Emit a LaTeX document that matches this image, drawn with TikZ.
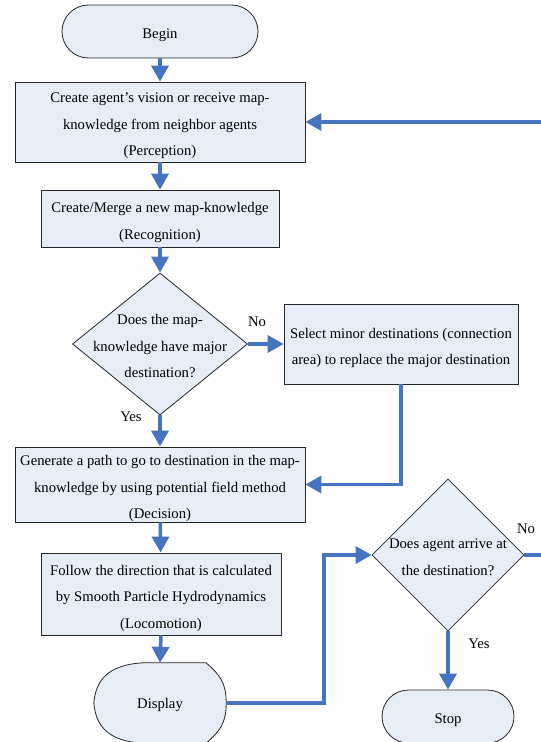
\documentclass[tikz,border=0pt]{standalone}
\usepackage{fontspec}
\setmainfont{Liberation Serif}
\usetikzlibrary{shapes.geometric,shapes.misc,arrows.meta}

\definecolor{flowblue}{RGB}{70,116,193}
\definecolor{boxfill}{RGB}{231,237,247}

\tikzset{
  txt/.style={font=\fontsize{14.7}{26.5}\selectfont, align=center, inner sep=0pt},
  boxtext/.style={txt, yshift=-4pt},
  shapeline/.style={draw=black!85, fill=boxfill, line width=0.8pt},
  process/.style={shapeline, rectangle, inner sep=0pt},
  terminal/.style={shapeline, rounded rectangle, inner sep=0pt, minimum height=53pt},
  decision/.style={shapeline, diamond, inner sep=0pt},
  flow/.style={draw=flowblue, line width=3.5pt, -{Triangle[length=16pt,width=17pt]}},
  plainflow/.style={draw=flowblue, line width=3.5pt}
}

\begin{document}
\begin{tikzpicture}[x=1pt, y=-1pt]
  \useasboundingbox (0,0) rectangle (541,742);

  % Main column
  \node[terminal, minimum width=196pt] (begin) at (160,31.5) {};
  \node[boxtext] (begintext) at (begin) {Begin};

  \node[process, minimum width=290pt, minimum height=80pt] (perc) at (160,122) {};
  \node[boxtext] (perctext) at (perc)
    {Create agent’s vision or receive map-\\knowledge from neighbor agents\\(Perception)};

  \node[process, minimum width=238pt, minimum height=57pt] (recog) at (160,218.5) {};
  \node[boxtext] (recogtext) at (recog) {Create/Merge a new map-knowledge\\(Recognition)};

  \node[decision, minimum width=175pt, minimum height=142pt] (dec1) at (160,344) {};
  \node[txt] (dec1text) at (160,346) {Does the map-\\knowledge have major\\destination?};

  \node[process, minimum width=234pt, minimum height=80pt] (minor) at (401,344) {};
  \node[boxtext] (minortext) at (minor)
    {Select minor destinations (connection\\area) to replace the major destination};

  \node[process, minimum width=290pt, minimum height=75pt] (decide) at (160,484.5) {};
  \node[boxtext] (decidetext) at (decide)
    {Generate a path to go to destination in the map-\\knowledge by using potential field method\\(Decision)};

  \node[process, minimum width=240pt, minimum height=82pt] (loco) at (161,594) {};
  \node[boxtext] (locotext) at (loco)
    {Follow the direction that is calculated\\by Smooth Particle Hydrodynamics\\(Locomotion)};

  \node[minimum width=132pt, minimum height=80pt, inner sep=0pt] (disp) at (160,703) {};

  % Display outline
  \path[shapeline] ([xshift=-17pt]disp.north) -- ([xshift=46pt]disp.north)
    .. controls +(14,12) and +(0,-20) .. (disp.east)
    .. controls +(0,20) and +(14,-12) .. ([xshift=46pt]disp.south)
    -- ([xshift=-17pt]disp.south)
    .. controls +(-36,-2) and +(2,22) .. (disp.west)
    .. controls +(2,-22) and +(-36,2) .. ([xshift=-17pt]disp.north) -- cycle;
  \node[txt] (disptext) at (160,705) {Display};

  % Right column
  \node[decision, minimum width=152pt, minimum height=152pt] (dec2) at (448,555) {};
  \node[txt] (dec2text) at (448,557) {Does agent arrive at\\the destination?};

  \node[terminal, minimum width=132pt] (stop) at (448,716.5) {};
  \node[boxtext] (stoptext) at (stop) {Stop};

  \coordinate (edgeA) at (546,555);
  \coordinate (edgeB) at (546,122);

  % Labels
  \node[txt] (no1) at (257,322) {No};
  \node[txt] (yes1) at (131,417) {Yes};
  \node[txt] (no2) at (526,529) {No};
  \node[txt] (yes2) at (479,644) {Yes};

  % Connectors
  \draw[flow] (begin) -- (perc);
  \draw[flow] (perc) -- (recog);
  \draw[flow] (recog) -- (dec1);
  \draw[flow] (dec1) -- (minor);
  \draw[flow] (dec1) -- (decide);
  \draw[flow] (minor.south) |- (decide.east);
  \draw[flow] (decide) -- (loco);
  \draw[flow] (loco.south) -- (disp.north);
  \draw[flow] (disp.east) -- ++(98,0) |- (dec2.west);
  \draw[flow] (dec2) -- (stop);
  \draw[plainflow] (dec2.east) -- (edgeA);
  \draw[flow] (edgeB) -- (perc.east);
\end{tikzpicture}
\end{document}
